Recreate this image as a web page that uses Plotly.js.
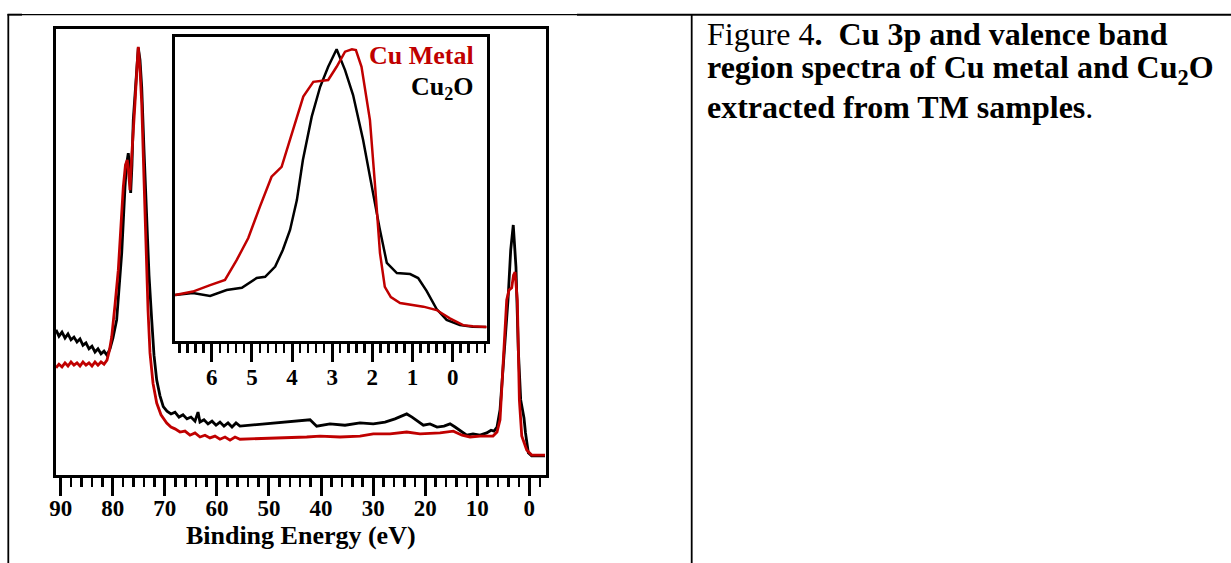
<!DOCTYPE html>
<html>
<head>
<meta charset="utf-8">
<script src="https://cdn.plot.ly/plotly-3.0.1.min.js"></script>
<style>
html,body{margin:0;padding:0;background:#fff;}
#chart{width:1231px;height:563px;}
</style>
</head>
<body>
<div id="chart"></div>
<script>
// ---- Data (binding energy in eV, intensity in arbitrary units) ----
var mainEnergyCu2O = [90.90,90.33,89.75,89.17,88.60,88.02,87.45,86.87,86.29,85.72,85.14,84.57,83.99,83.41,82.84,82.26,81.68,81.11,80.53,79.96,79.25,78.80,78.28,77.65,77.36,77.02,76.79,76.56,76.31,76.06,75.54,75.10,74.77,74.44,74.00,73.48,73.04,72.52,72.08,71.56,70.93,70.30,69.59,68.82,68.05,67.28,66.51,65.75,64.98,64.21,63.63,63.25,62.48,61.71,60.94,60.17,59.41,58.64,57.87,57.10,56.33,55.57,42.12,40.84,38.28,35.40,32.52,29.97,27.72,25.80,24.45,23.55,22.53,21.38,20.36,19.08,17.73,16.39,15.23,14.27,13.12,12.03,10.82,9.47,8.19,7.36,6.79,6.21,5.63,5.06,4.48,4.10,3.58,3.09,2.57,2.12,1.66,1.27,1.03,0.74,0.20,-0.45,-3.01];
var mainCu2O = [33.0,31.6,32.5,31.2,32.1,30.8,31.4,30.3,31.0,29.6,30.1,28.8,29.4,28.1,28.8,27.7,28.3,27.4,28.8,31.2,35.2,41.8,50.0,64.6,69.5,72.1,69.5,63.3,69.5,79.4,89.4,95.4,92.7,86.7,72.8,57.3,45.1,35.2,27.4,21.9,18.4,16.0,15.0,14.4,14.8,13.7,14.2,13.3,13.7,12.8,14.8,12.6,13.1,12.2,12.8,11.9,12.6,11.7,12.4,11.5,12.4,11.7,13.1,11.7,12.2,11.9,12.4,12.2,12.6,13.3,13.9,14.4,13.7,12.8,11.9,12.2,11.5,11.7,12.2,11.5,10.6,9.7,10.0,9.7,10.2,10.8,10.6,11.5,15.3,24.8,34.1,39.6,50.7,56.2,46.9,28.5,17.5,15.3,13.5,10.2,5.8,5.1,5.1];

var mainEnergyCu = [90.90,90.33,89.75,89.17,88.60,88.02,87.45,86.87,86.29,85.72,85.14,84.57,83.99,83.41,82.84,82.26,81.68,81.11,80.63,80.21,79.57,78.94,78.42,77.98,77.56,77.21,76.92,76.69,76.40,76.11,75.73,75.38,75.10,74.77,74.44,74.00,73.62,73.23,72.85,72.27,71.56,70.74,69.64,68.82,68.05,67.09,66.13,65.17,64.21,63.25,62.29,61.33,60.37,59.41,58.44,57.48,56.52,55.57,42.76,40.20,36.36,32.52,29.97,26.76,23.55,21.00,17.16,14.60,12.93,11.39,9.47,6.98,6.21,5.63,5.00,4.35,3.91,3.39,3.04,2.75,2.31,1.92,1.46,0.51,-0.45,-3.01];
var mainCu = [24.6,25.4,24.8,25.7,25.0,25.9,25.2,25.7,25.0,25.9,25.2,25.7,25.0,25.9,25.2,25.9,25.4,26.3,28.5,31.4,38.5,46.2,56.2,64.6,69.5,70.6,67.3,63.9,70.6,77.2,83.2,90.5,95.6,90.5,83.2,66.2,50.0,37.4,27.9,21.2,16.8,14.2,12.4,11.5,11.1,10.4,10.6,9.7,10.2,9.3,9.7,9.1,9.5,8.8,9.3,8.6,9.3,8.8,9.3,9.5,9.3,9.5,10.0,10.0,10.4,10.0,10.2,10.6,9.7,9.3,9.5,9.5,10.4,13.1,26.3,39.6,41.8,42.3,45.1,45.8,39.6,17.5,9.5,6.4,5.3,5.3];

var insetEnergyCu2O = [6.91,6.47,6.04,5.63,5.25,4.88,4.67,4.42,4.23,4.05,3.88,3.73,3.51,3.30,3.10,2.89,2.68,2.48,2.23,1.98,1.82,1.64,1.39,1.06,0.86,0.65,0.40,0.15,-0.18,-0.50,-0.83];
var insetCu2O = [15.6,16.2,15.3,17.2,17.9,21.1,21.5,24.8,30.2,36.7,46.4,59.4,73.5,83.2,89.7,95.4,88.6,80.5,65.9,48.1,37.3,26.0,22.7,22.4,21.1,16.9,11.0,7.5,5.8,5.3,5.2];

var insetEnergyCu = [6.91,6.47,6.04,5.67,5.38,5.09,4.80,4.51,4.26,3.97,3.72,3.47,3.10,2.89,2.68,2.51,2.41,2.27,2.06,1.93,1.81,1.69,1.54,1.31,0.73,0.40,0.07,-0.26,-0.50,-0.85];
var insetCu = [15.6,16.7,18.8,20.5,26.9,34.1,44.3,54.0,57.2,69.2,80.0,84.8,85.4,89.7,94.6,95.4,95.1,89.7,72.4,50.6,29.2,18.2,14.9,13.0,11.8,10.7,8.0,5.8,5.4,5.2];

var mainTicks = [90,80,70,60,50,40,30,20,10,0];
var insetTicks = [6,5,4,3,2,1,0];
var seriesNames = ['Cu\u2082O','Cu Metal'];
var xTitle = 'Binding Energy (eV)';
var captionLines = [
  'Figure 4<b>.\u00a0 Cu 3p and valence band</b>',
  '<b>region spectra of Cu metal and Cu<sub>2</sub>O</b>',
  '<b>extracted from TM samples</b>.'
];

// ---- Layout helpers (pixel -> paper, margins are zero) ----
var W = 1231, H = 563;
function px(x){ return x / W; }
function py(y){ return 1 - y / H; }

var RED = '#c00000';
var FONT = 'Liberation Serif, Times New Roman, serif';

var traces = [
  {x: mainEnergyCu2O, y: mainCu2O, xaxis:'x', yaxis:'y', mode:'lines', name: seriesNames[0],
   line:{color:'#000000', width:2.8}, hoverinfo:'skip'},
  {x: mainEnergyCu, y: mainCu, xaxis:'x', yaxis:'y', mode:'lines', name: seriesNames[1],
   line:{color:RED, width:2.8}, hoverinfo:'skip'},
  {x: insetEnergyCu2O, y: insetCu2O, xaxis:'x2', yaxis:'y2', mode:'lines', name: seriesNames[0],
   line:{color:'#000000', width:2.5}, hoverinfo:'skip'},
  {x: insetEnergyCu, y: insetCu, xaxis:'x2', yaxis:'y2', mode:'lines', name: seriesNames[1],
   line:{color:RED, width:2.5}, hoverinfo:'skip'}
];

var tickFont = {family: FONT, size: 23, color:'#000', weight:'bold'};

var layout = {
  width: W, height: H,
  margin: {l:0, r:0, t:0, b:0, pad:0},
  paper_bgcolor:'#ffffff', plot_bgcolor:'#ffffff',
  showlegend:false,
  xaxis: {
    domain:[px(56), px(545.5)], anchor:'y', range:[90.9, -3.1],
    tickmode:'array', tickvals: mainTicks, ticktext: mainTicks.map(String),
    ticks:'outside', ticklen:18, tickwidth:3, tickcolor:'#000',
    minor:{dtick:2, tick0:0, ticks:'outside', ticklen:9, tickwidth:2.5, tickcolor:'#000', showgrid:false},
    showline:true, linewidth:3, linecolor:'#000', mirror:true,
    showgrid:false, zeroline:false, tickfont: tickFont, automargin:false,
    ticklabelstandoff:-7,
    title:{text: xTitle, font:{family:FONT, size:26, color:'#000', weight:'bold'}, standoff:0}
  },
  yaxis: {
    domain:[py(474.5), py(29)], anchor:'x', range:[1.0, 99.56],
    showline:true, linewidth:3, linecolor:'#000', mirror:true,
    ticks:'', showticklabels:false, showgrid:false, zeroline:false, automargin:false
  },
  xaxis2: {
    domain:[px(174.8), px(486.8)], anchor:'y2', range:[6.92, -0.85],
    tickmode:'array', tickvals: insetTicks, ticktext: insetTicks.map(String),
    ticks:'outside', ticklen:18, tickwidth:3, tickcolor:'#000',
    minor:{dtick:0.2, tick0:0, ticks:'outside', ticklen:9, tickwidth:2.5, tickcolor:'#000', showgrid:false},
    showline:true, linewidth:3, linecolor:'#000', mirror:true,
    showgrid:false, zeroline:false, tickfont: tickFont, automargin:false,
    ticklabelstandoff:-5
  },
  yaxis2: {
    domain:[py(341.2), py(37.2)], anchor:'x2', range:[0.58, 99.3],
    showline:true, linewidth:3, linecolor:'#000', mirror:true,
    ticks:'', showticklabels:false, showgrid:false, zeroline:false, automargin:false
  },
  shapes: [
    // table borders
    {type:'line', xref:'paper', yref:'paper', x0:px(7.5), x1:px(22), y0:py(14.7), y1:py(14.7), line:{color:'#000', width:2}},
    {type:'line', xref:'paper', yref:'paper', x0:px(22), x1:px(577), y0:py(14.7), y1:py(14.7), line:{color:'#000', width:1.3}},
    {type:'line', xref:'paper', yref:'paper', x0:px(577), x1:px(1231), y0:py(14.7), y1:py(14.7), line:{color:'#000', width:2}},
    {type:'line', xref:'paper', yref:'paper', x0:px(8.3), x1:px(8.3), y0:py(14), y1:py(563), line:{color:'#000', width:1.8}},
    {type:'line', xref:'paper', yref:'paper', x0:px(691.7), x1:px(691.7), y0:py(14), y1:py(563), line:{color:'#000', width:1.8}}
  ],
  annotations: [
    {xref:'paper', yref:'paper', x:px(476), y:py(55), xanchor:'right', yanchor:'middle', showarrow:false,
     text: seriesNames[1], font:{family:FONT, size:26, color:RED, weight:'bold'}},
    {xref:'paper', yref:'paper', x:px(476), y:py(88), xanchor:'right', yanchor:'middle', showarrow:false,
     text: 'Cu<sub>2</sub>O', font:{family:FONT, size:26, color:'#000', weight:'bold'}},
    {xref:'paper', yref:'paper', x:px(705), y:py(34), xanchor:'left', yanchor:'middle', showarrow:false,
     text: captionLines[0], font:{family:FONT, size:32, color:'#000'}},
    {xref:'paper', yref:'paper', x:px(705), y:py(70), xanchor:'left', yanchor:'middle', showarrow:false,
     text: captionLines[1], font:{family:FONT, size:32, color:'#000'}},
    {xref:'paper', yref:'paper', x:px(705), y:py(107), xanchor:'left', yanchor:'middle', showarrow:false,
     text: captionLines[2], font:{family:FONT, size:32, color:'#000'}}
  ]
};

Plotly.newPlot('chart', traces, layout, {staticPlot:true, displayModeBar:false});
</script>
</body>
</html>
